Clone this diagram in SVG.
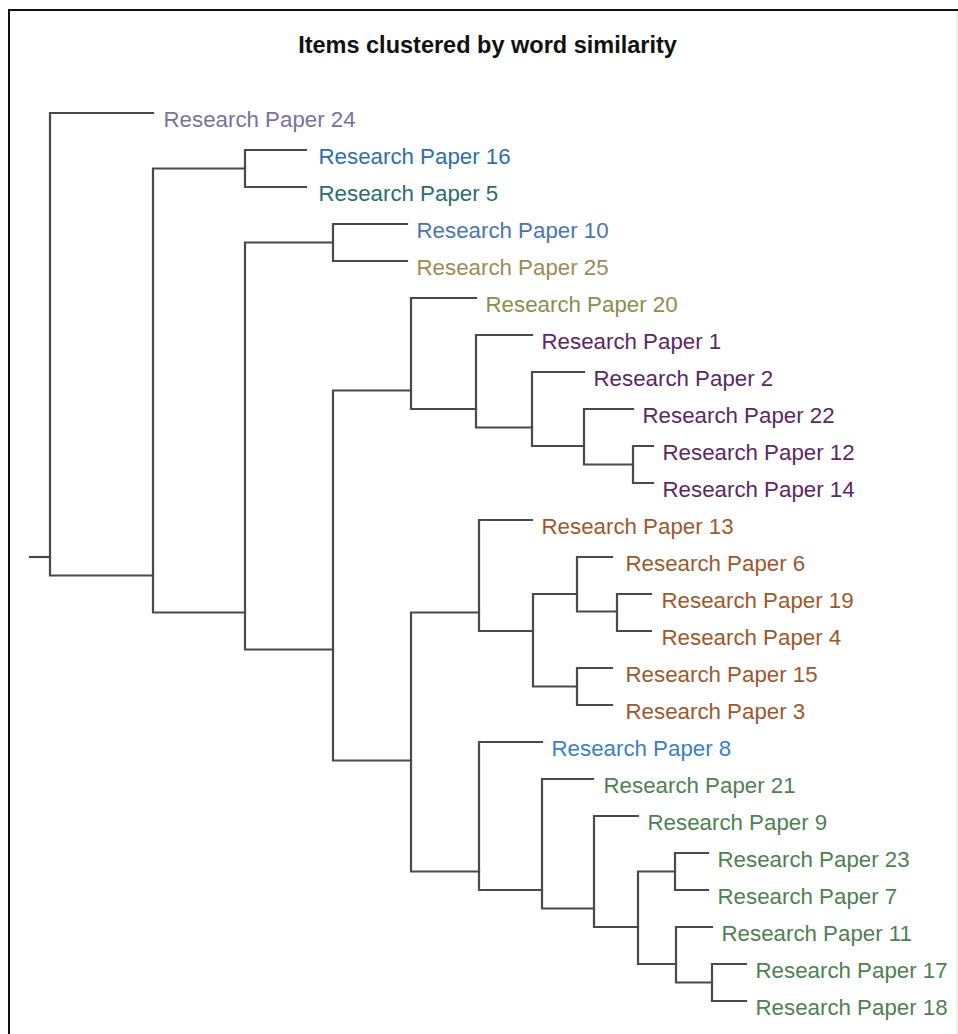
<svg xmlns="http://www.w3.org/2000/svg" width="958" height="1034" viewBox="0 0 958 1034">
  <style>
    .title { font-family: "Liberation Sans", Arial, sans-serif; font-weight: bold; font-size: 23.5px; fill: #111; }
    .lbl { font-family: "Liberation Sans", Arial, sans-serif; font-size: 22.3px; }
    .link { fill: none; stroke: #4a4a4a; stroke-width: 2.2; stroke-linecap: square; stroke-linejoin: miter; }
    .c24 { fill: #7a7399; }
    .c16 { fill: #2f6fa8; }
    .c5 { fill: #2b6c70; }
    .c10 { fill: #4a76ad; }
    .c25 { fill: #9c8b55; }
    .c20 { fill: #8c8d4f; }
    .cpur { fill: #5b2864; }
    .cbrn { fill: #9b5a2e; }
    .c8 { fill: #3a80c4; }
    .cgrn { fill: #4f7f52; }
  </style>

  <rect x="0" y="0" width="958" height="1034" fill="#ffffff"/>

  <!-- panel frame -->
  <g id="frame">
    <line x1="8" y1="10" x2="958" y2="10" stroke="#111" stroke-width="2"/>
    <line x1="9" y1="9" x2="9" y2="1034" stroke="#111" stroke-width="2"/>
    <line x1="957" y1="11" x2="957" y2="1034" stroke="#e2e2e2" stroke-width="1"/>
  </g>

  <text id="title" class="title" x="487.5" y="53" text-anchor="middle">Items clustered by word similarity</text>

  <!-- dendrogram branches: one elbow path per merge -->
  <g id="connectors">
    <path class="link" d="M30 557 H50"/>
    <path class="link" d="M153 113 H50 V575.5 H153"/>
    <path class="link" d="M245 168.5 H153 V612.5 H245"/>
    <path class="link" d="M306 150 H245 V187 H306"/>
    <path class="link" d="M333 242.5 H245 V649.5 H333"/>
    <path class="link" d="M407 224 H333 V261 H407"/>
    <path class="link" d="M411 390.5 H333 V760.5 H411"/>
    <path class="link" d="M476 298 H411 V409 H476"/>
    <path class="link" d="M532 335 H476 V427.5 H532"/>
    <path class="link" d="M584 372 H532 V446 H584"/>
    <path class="link" d="M633 409 H584 V464.5 H633"/>
    <path class="link" d="M653 446 H633 V483 H653"/>
    <path class="link" d="M479 612.5 H411 V871.5 H479"/>
    <path class="link" d="M532 520 H479 V631 H533"/>
    <path class="link" d="M577 594 H533 V686.5 H577"/>
    <path class="link" d="M612 557 H577 V611.5 H617"/>
    <path class="link" d="M651 594 H617 V631 H651"/>
    <path class="link" d="M612 668 H577 V705 H612"/>
    <path class="link" d="M542 742 H479 V890 H542"/>
    <path class="link" d="M593 779 H542 V908.5 H594"/>
    <path class="link" d="M638 816 H594 V927 H638"/>
    <path class="link" d="M675 871.5 H638 V964 H676"/>
    <path class="link" d="M708 853 H675 V890 H708"/>
    <path class="link" d="M712 927 H676 V982.5 H712"/>
    <path class="link" d="M746 964 H712 V1001 H746"/>
  </g>

  <!-- leaf labels -->
  <g id="rp24"><text class="lbl c24" x="163.5" y="126.5">Research Paper 24</text></g>
  <g id="rp16"><text class="lbl c16" x="318.5" y="163.5">Research Paper 16</text></g>
  <g id="rp5"><text class="lbl c5" x="318.5" y="200.5">Research Paper 5</text></g>
  <g id="rp10"><text class="lbl c10" x="416.5" y="237.5">Research Paper 10</text></g>
  <g id="rp25"><text class="lbl c25" x="416.5" y="274.5">Research Paper 25</text></g>
  <g id="rp20"><text class="lbl c20" x="485.5" y="311.5">Research Paper 20</text></g>
  <g id="rp1"><text class="lbl cpur" x="541.5" y="348.5">Research Paper 1</text></g>
  <g id="rp2"><text class="lbl cpur" x="593.5" y="385.5">Research Paper 2</text></g>
  <g id="rp22"><text class="lbl cpur" x="642.5" y="422.5">Research Paper 22</text></g>
  <g id="rp12"><text class="lbl cpur" x="662.5" y="459.5">Research Paper 12</text></g>
  <g id="rp14"><text class="lbl cpur" x="662.5" y="496.5">Research Paper 14</text></g>
  <g id="rp13"><text class="lbl cbrn" x="541.5" y="533.5">Research Paper 13</text></g>
  <g id="rp6"><text class="lbl cbrn" x="625.5" y="570.5">Research Paper 6</text></g>
  <g id="rp19"><text class="lbl cbrn" x="661.5" y="607.5">Research Paper 19</text></g>
  <g id="rp4"><text class="lbl cbrn" x="661.5" y="644.5">Research Paper 4</text></g>
  <g id="rp15"><text class="lbl cbrn" x="625.5" y="681.5">Research Paper 15</text></g>
  <g id="rp3"><text class="lbl cbrn" x="625.5" y="718.5">Research Paper 3</text></g>
  <g id="rp8"><text class="lbl c8" x="551.5" y="755.5">Research Paper 8</text></g>
  <g id="rp21"><text class="lbl cgrn" x="603.5" y="792.5">Research Paper 21</text></g>
  <g id="rp9"><text class="lbl cgrn" x="647.5" y="829.5">Research Paper 9</text></g>
  <g id="rp23"><text class="lbl cgrn" x="717.5" y="866.5">Research Paper 23</text></g>
  <g id="rp7"><text class="lbl cgrn" x="717.5" y="903.5">Research Paper 7</text></g>
  <g id="rp11"><text class="lbl cgrn" x="721.5" y="940.5">Research Paper 11</text></g>
  <g id="rp17"><text class="lbl cgrn" x="755.5" y="977.5">Research Paper 17</text></g>
  <g id="rp18"><text class="lbl cgrn" x="755.5" y="1014.5">Research Paper 18</text></g>
</svg>
